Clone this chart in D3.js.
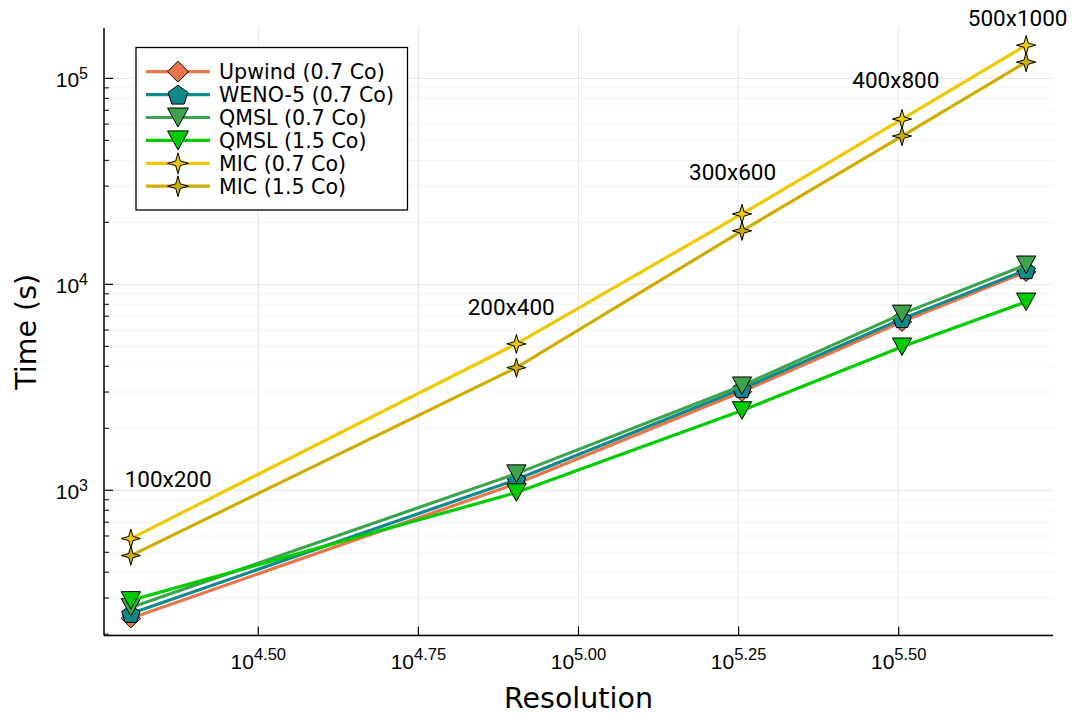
<!DOCTYPE html>
<html><head><meta charset="utf-8">
<script src="https://cdn.jsdelivr.net/npm/d3@7"></script>
<style>body{margin:0;background:#fff}svg{display:block}</style>
</head><body>
<svg id="chart" width="1076" height="714"></svg>
<script>
// ---- data ----
const resolutions = [20000, 80000, 180000, 320000, 500000];
const resLabels = ["100x200", "200x400", "300x600", "400x800", "500x1000"];
const labelRes = [22870, 78500, 174000, 313000, 485000];
const labelTime = [1140, 7780, 35100, 98100, 196000];
const upwind = [239, 1077, 3010, 6580, 11500];
const weno5 = [252, 1127, 3110, 6800, 11750];
const qmsl07 = [270, 1205, 3220, 7190, 12450];
const qmsl15 = [292, 975, 2440, 4980, 8230];
const mic07 = [583, 5140, 21980, 63500, 145000];
const mic15 = [482, 3940, 18200, 52500, 120000];
const seriesNames = ["Upwind (0.7 Co)", "WENO-5 (0.7 Co)", "QMSL (0.7 Co)", "QMSL (1.5 Co)", "MIC (0.7 Co)", "MIC (1.5 Co)"];
const xTickExps = [4.5, 4.75, 5.0, 5.25, 5.5];
const xTickLabels = ["4.50", "4.75", "5.00", "5.25", "5.50"];
const yTickExps = [3, 4, 5];
const yTickLabels = ["3", "4", "5"];

const seriesValues = [upwind, weno5, qmsl07, qmsl15, mic07, mic15];
const colors = ["#E8764A", "#0E8A8C", "#3DA44D", "#00CD00", "#EEC900", "#CDAD00"];
const shapes = ["diamond", "pentagon", "dtri", "dtri", "star4", "star4"];

const svg = d3.select("#chart");
const L = 104, R = 1053, T = 28, B = 635.5;

function widenLog(vals) {
  const lo = Math.log10(d3.min(vals)), hi = Math.log10(d3.max(vals));
  const pad = (hi - lo) * 0.03;
  return [Math.pow(10, lo - pad), Math.pow(10, hi + pad)];
}
const x = d3.scaleLog().domain(widenLog(resolutions)).range([L, R]);
const y = d3.scaleLog().domain(widenLog(seriesValues.flat())).range([B, T]);

// grid: minor y
const [y0, y1] = y.domain();
const minorY = [];
for (let e = Math.floor(Math.log10(y0)); e <= Math.ceil(Math.log10(y1)); e++) {
  for (let m = 2; m <= 9; m++) {
    const v = m * Math.pow(10, e);
    if (v >= y0 && v <= y1) minorY.push(v);
  }
}
const g = svg.append("g");
g.selectAll(".ygm").data(minorY).join("line")
  .attr("x1", L).attr("x2", R).attr("y1", d => y(d)).attr("y2", d => y(d))
  .attr("stroke", "#000").attr("stroke-opacity", 0.05).attr("stroke-width", 1);
g.selectAll(".yg").data(yTickExps).join("line")
  .attr("x1", L).attr("x2", R).attr("y1", d => y(Math.pow(10, d))).attr("y2", d => y(Math.pow(10, d)))
  .attr("stroke", "#000").attr("stroke-opacity", 0.1).attr("stroke-width", 1);
g.selectAll(".xg").data(xTickExps).join("line")
  .attr("y1", T).attr("y2", B).attr("x1", d => x(Math.pow(10, d))).attr("x2", d => x(Math.pow(10, d)))
  .attr("stroke", "#000").attr("stroke-opacity", 0.1).attr("stroke-width", 1);

// axes spines and ticks
const ax = svg.append("g").attr("stroke", "#000");
ax.append("line").attr("x1", L).attr("x2", L).attr("y1", T).attr("y2", B).attr("stroke-width", 1.5);
ax.append("line").attr("x1", L).attr("x2", R).attr("y1", B).attr("y2", B).attr("stroke-width", 1.5);
ax.selectAll(".ymt").data(minorY).join("line")
  .attr("x1", L).attr("x2", L + 5).attr("y1", d => y(d)).attr("y2", d => y(d)).attr("stroke-width", 1);
ax.selectAll(".yt").data(yTickExps).join("line")
  .attr("x1", L).attr("x2", L + 9).attr("y1", d => y(Math.pow(10, d))).attr("y2", d => y(Math.pow(10, d))).attr("stroke-width", 1.2);
ax.selectAll(".xt").data(xTickExps).join("line")
  .attr("y1", B).attr("y2", B - 9).attr("x1", d => x(Math.pow(10, d))).attr("x2", d => x(Math.pow(10, d))).attr("stroke-width", 1.2);

const tickFont = "Liberation Sans, Arial, sans-serif";
// y tick labels
yTickExps.forEach((e, i) => {
  const t = svg.append("text").attr("x", 88).attr("y", y(Math.pow(10, e)) + 9)
    .attr("text-anchor", "end").attr("font-family", tickFont).attr("font-size", 21).attr("fill", "#000");
  t.append("tspan").text("10");
  t.append("tspan").attr("dy", -8).attr("font-size", 16).text(yTickLabels[i]);
});
// x tick labels
xTickExps.forEach((e, i) => {
  const t = svg.append("text").attr("x", x(Math.pow(10, e))).attr("y", 669)
    .attr("text-anchor", "middle").attr("font-family", tickFont).attr("font-size", 21).attr("fill", "#000");
  t.append("tspan").text("10");
  t.append("tspan").attr("dy", -9).attr("font-size", 16.5).text(xTickLabels[i]);
});
// axis titles
svg.append("text").attr("x", (L + R) / 2).attr("y", 708).attr("text-anchor", "middle")
  .attr("font-family", "DejaVu Sans, sans-serif").attr("font-size", 28.5).text("Resolution");
svg.append("text").attr("transform", `translate(36,${(T + B) / 2}) rotate(-90)`).attr("text-anchor", "middle")
  .attr("font-family", "DejaVu Sans, sans-serif").attr("font-size", 28.5).text("Time (s)");

// marker paths
function markerPath(shape, s) {
  if (shape === "diamond") { const r = s * 0.55; return `M0,${-r}L${r},0L0,${r}L${-r},0Z`; }
  if (shape === "pentagon") {
    const r = s * 0.55; let p = "";
    for (let k = 0; k < 5; k++) { const a = -Math.PI / 2 + k * 2 * Math.PI / 5; p += (k ? "L" : "M") + (r * Math.cos(a)).toFixed(2) + "," + (r * Math.sin(a) + r * 0.1).toFixed(2); }
    return p + "Z";
  }
  if (shape === "dtri") { const w = s * 0.55, h = s * 0.5; return `M${-w},${-h}L${w},${-h}L0,${h}Z`; }
  if (shape === "star4") {
    const r = s * 0.55, k = r * 0.22;
    return `M0,${-r}L${k},${-k}L${r},0L${k},${k}L0,${r}L${-k},${k}L${-r},0L${-k},${-k}Z`;
  }
}

const line = d3.line().x((d, i) => x(resolutions[i])).y(d => y(d));
const plot = svg.append("g");
seriesValues.forEach((vals, si) => {
  plot.append("path").datum(vals).attr("d", line).attr("fill", "none")
    .attr("stroke", colors[si]).attr("stroke-width", 3.2);
  plot.selectAll(null).data(vals).join("path")
    .attr("transform", (d, i) => `translate(${x(resolutions[i])},${y(d)})`)
    .attr("d", markerPath(shapes[si], 17.5)).attr("fill", colors[si])
    .attr("stroke", "#000").attr("stroke-width", 1);
});

// annotations
svg.selectAll(".ann").data(resLabels).join("text")
  .attr("x", (d, i) => x(labelRes[i])).attr("y", (d, i) => y(labelTime[i]) + 8)
  .attr("text-anchor", "middle").attr("font-family", "Roboto, sans-serif").attr("font-size", 22.5)
  .attr("fill", "#000").text(d => d);

// legend
const lg = svg.append("g");
lg.append("rect").attr("x", 136).attr("y", 47.5).attr("width", 271.5).attr("height", 162.5)
  .attr("fill", "#fff").attr("stroke", "#000").attr("stroke-width", 1.3);
seriesNames.forEach((name, i) => {
  const cy = 71.7 + i * 22.9;
  lg.append("line").attr("x1", 146).attr("x2", 210).attr("y1", cy).attr("y2", cy)
    .attr("stroke", colors[i]).attr("stroke-width", 3.2);
  lg.append("path").attr("transform", `translate(178,${cy})`).attr("d", markerPath(shapes[i], 19))
    .attr("fill", colors[i]).attr("stroke", "#000").attr("stroke-width", 1);
  lg.append("text").attr("x", 219).attr("y", cy + 7.5).attr("font-family", "DejaVu Sans, sans-serif")
    .attr("font-size", 20.6).attr("fill", "#000").text(name);
});
</script>
</body></html>
